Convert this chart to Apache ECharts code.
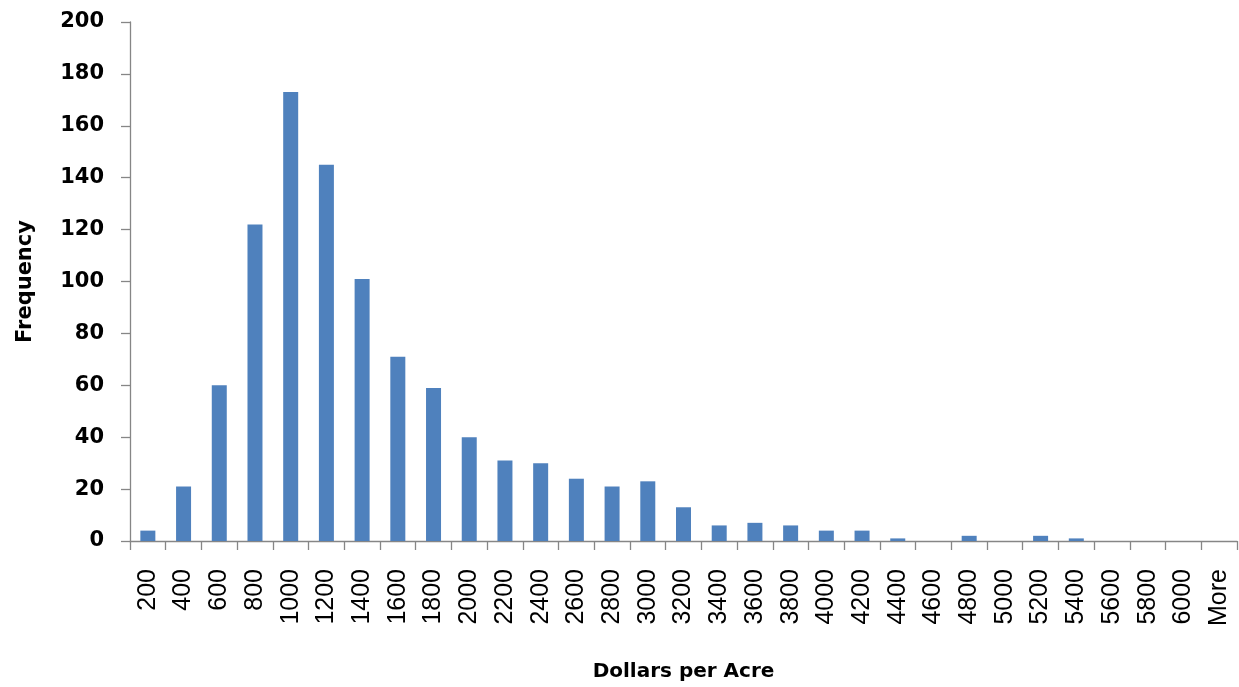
<!DOCTYPE html>
<html>
<head>
<meta charset="utf-8">
<script src="https://cdn.jsdelivr.net/npm/echarts@6/dist/echarts.min.js"></script>
<style>
  html, body { margin: 0; padding: 0; background: #ffffff; }
  #chart { width: 1239px; height: 687px; }
</style>
</head>
<body>
<div id="chart"></div>
<script>
// Histogram bins (upper bound of each bin, in dollars per acre)
const bins = ['200', '400', '600', '800', '1000', '1200', '1400', '1600', '1800', '2000',
  '2200', '2400', '2600', '2800', '3000', '3200', '3400', '3600', '3800', '4000',
  '4200', '4400', '4600', '4800', '5000', '5200', '5400', '5600', '5800', '6000', 'More'];

// Count of observations in each bin
const frequency = [4, 21, 60, 122, 173, 145, 101, 71, 59, 40,
  31, 30, 24, 21, 23, 13, 6, 7, 6, 4,
  4, 1, 0, 2, 0, 2, 1, 0, 0, 0, 0];

// Frequency axis range and step
const yMin = 0;
const yMax = 200;
const yStep = 20;

const axisGrey = '#868686';

const chart = echarts.init(document.getElementById('chart'), null, { renderer: 'canvas' });

chart.setOption({
  animation: false,
  backgroundColor: '#ffffff',
  grid: { left: 130, right: 2, top: 22, bottom: 146, containLabel: false, outerBoundsMode: 'none' },
  xAxis: {
    type: 'category',
    data: bins,
    boundaryGap: true,
    name: 'Dollars per Acre',
    nameLocation: 'middle',
    nameGap: 121,
    nameTextStyle: { fontFamily: 'DejaVu Sans', fontWeight: 'bold', fontSize: 20, color: '#000' },
    axisLine: { show: true, lineStyle: { color: axisGrey, width: 1.3 } },
    axisTick: { show: true, alignWithLabel: false, length: 9, interval: 0, lineStyle: { color: axisGrey, width: 1.3 } },
    axisLabel: {
      interval: 0,
      rotate: 90,
      margin: 28,
      fontFamily: 'Liberation Sans',
      fontSize: 25,
      color: '#000'
    },
    splitLine: { show: false }
  },
  yAxis: {
    type: 'value',
    min: yMin,
    max: yMax,
    interval: yStep,
    name: 'Frequency',
    nameLocation: 'middle',
    nameRotate: 90,
    nameGap: 94,
    nameTextStyle: { fontFamily: 'DejaVu Sans', fontWeight: 'bold', fontSize: 21, color: '#000' },
    axisLine: { show: true, lineStyle: { color: axisGrey, width: 1.3 } },
    axisTick: { show: true, length: 9, lineStyle: { color: axisGrey, width: 1.3 } },
    axisLabel: {
      margin: 26,
      fontFamily: 'DejaVu Sans',
      fontWeight: 'bold',
      fontSize: 21,
      color: '#000'
    },
    splitLine: { show: false }
  },
  series: [{
    type: 'bar',
    data: frequency,
    barWidth: '42%',
    itemStyle: { color: '#4F81BD' }
  }]
});
</script>
</body>
</html>
